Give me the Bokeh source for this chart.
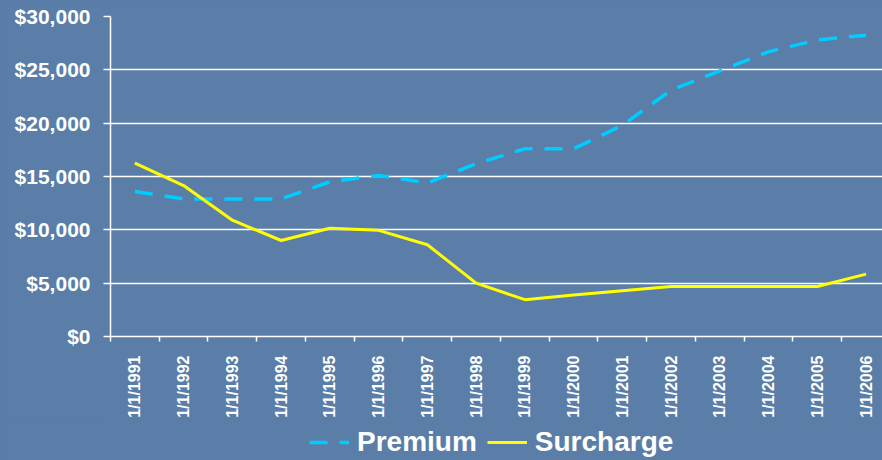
import math
from bokeh.plotting import figure
from bokeh.layouts import column
from bokeh.models import (Range1d, FixedTicker, NumeralTickFormatter, Legend, LegendItem)
from bokeh.embed import file_html
from bokeh.resources import INLINE

years = ["1/1/1991", "1/1/1992", "1/1/1993", "1/1/1994", "1/1/1995", "1/1/1996",
         "1/1/1997", "1/1/1998", "1/1/1999", "1/1/2000", "1/1/2001", "1/1/2002",
         "1/1/2003", "1/1/2004", "1/1/2005", "1/1/2006"]
premium = [13600, 12900, 12900, 12900, 14500, 15100, 14400, 16200, 17600, 17600,
           19800, 23100, 24900, 26700, 27800, 28250]
surcharge = [16250, 14150, 10900, 9000, 10150, 9950, 8600, 5000, 3450, 3900,
             4300, 4690, 4690, 4690, 4690, 5850]
y_ticks = [0, 5000, 10000, 15000, 20000, 25000, 30000]

BG = "#5a7ea7"
FONT = "Liberation Sans"
PREM_COLOR = "#00ccff"
SUR_COLOR = "#ffff00"
PREM_DASH = "18 12"

xs = list(range(len(years)))

p = figure(width=882, height=420, output_backend="svg", toolbar_location=None,
           x_range=Range1d(-0.5, 15.336), y_range=Range1d(0, 30000),
           min_border_left=110, min_border_right=0, min_border_top=16,
           min_border_bottom=84)
p.background_fill_color = BG
p.border_fill_color = BG
p.outline_line_color = None

p.xgrid.visible = False
p.ygrid.grid_line_color = "white"
p.ygrid.grid_line_width = 1.5
p.ygrid.ticker = FixedTicker(ticks=y_ticks)

# y axis
p.yaxis.ticker = FixedTicker(ticks=y_ticks)
p.yaxis.formatter = NumeralTickFormatter(format="$0,0")
p.yaxis.axis_line_color = "white"
p.yaxis.axis_line_width = 1.5
p.yaxis.major_tick_line_color = "white"
p.yaxis.major_tick_line_width = 1.5
p.yaxis.major_tick_out = 7
p.yaxis.major_tick_in = 0
p.yaxis.minor_tick_line_color = None
p.yaxis.major_label_text_color = "white"
p.yaxis.major_label_text_font = FONT
p.yaxis.major_label_text_font_style = "bold"
p.yaxis.major_label_text_font_size = "21px"
p.yaxis.major_label_standoff = 13

# x axis
p.xaxis.ticker = FixedTicker(ticks=xs, minor_ticks=[i - 0.5 for i in range(len(years) + 1)])
p.xaxis.major_label_overrides = {i: y for i, y in enumerate(years)}
p.xaxis.axis_line_color = "white"
p.xaxis.axis_line_width = 1.5
p.xaxis.major_tick_line_color = None
p.xaxis.major_tick_out = 0
p.xaxis.major_tick_in = 0
p.xaxis.minor_tick_line_color = "white"
p.xaxis.minor_tick_line_width = 1.5
p.xaxis.minor_tick_out = 5
p.xaxis.minor_tick_in = 0
p.xaxis.major_label_orientation = math.pi / 2
p.xaxis.major_label_text_color = "white"
p.xaxis.major_label_text_font = FONT
p.xaxis.major_label_text_font_style = "bold"
p.xaxis.major_label_text_font_size = "16px"
p.xaxis.major_label_standoff = 14

p.line(xs, premium, line_color=PREM_COLOR, line_width=3.5, line_dash=PREM_DASH)
p.line(xs, surcharge, line_color=SUR_COLOR, line_width=3)

# legend strip: same series, drawn outside this strip's visible range so only the legend shows
lg = figure(width=882, height=40, output_backend="svg", toolbar_location=None,
            x_range=Range1d(0, 1), y_range=Range1d(-2, -1),
            min_border_left=0, min_border_right=0, min_border_top=0, min_border_bottom=0)
lg.background_fill_color = None
lg.border_fill_color = BG
lg.outline_line_color = None
lg.axis.visible = False
lg.grid.visible = False
l1 = lg.line(xs, premium, line_color=PREM_COLOR, line_width=3.5, line_dash=PREM_DASH)
l2 = lg.line(xs, surcharge, line_color=SUR_COLOR, line_width=3)

legend = Legend(items=[LegendItem(label="Premium", renderers=[l1]),
                       LegendItem(label="Surcharge", renderers=[l2])],
                orientation="horizontal", location=(199, 2))
legend.background_fill_alpha = 0
legend.border_line_color = None
legend.label_text_color = "white"
legend.label_text_font = FONT
legend.label_text_font_style = "bold"
legend.label_text_font_size = "28px"
legend.glyph_width = 40
legend.label_standoff = 8
legend.spacing = 10
legend.padding = 0
legend.margin = 0
lg.add_layout(legend, "center")

layout = column(p, lg, spacing=0, styles={"background-color": BG})
open("out.html", "w").write(file_html(layout, INLINE))
